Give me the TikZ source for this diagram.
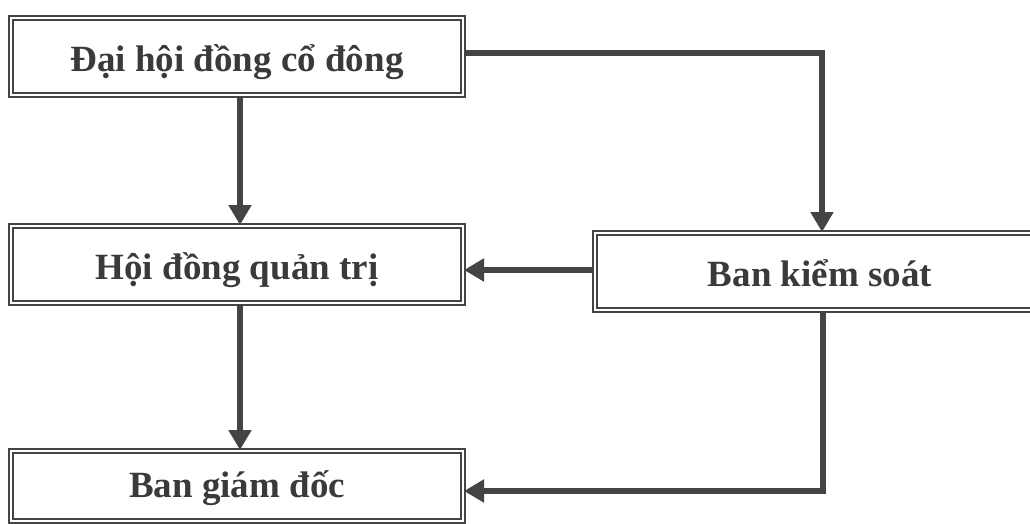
\documentclass[tikz,border=0pt]{standalone}
\usepackage{fontspec}
\setmainfont{Liberation Serif}
\usetikzlibrary{arrows.meta,calc}
\definecolor{ink}{HTML}{444444}
\definecolor{txt}{HTML}{3A3A3A}
\tikzset{
  orgbox/.style={draw=ink, line width=2pt, double=white, double distance=2.5pt,
    fill=white, minimum height=77pt, inner sep=0pt, text height=36pt, text depth=6pt,
    font=\fontsize{37}{40}\selectfont\bfseries, text=txt},
  conn/.style={draw=ink, line width=6.5pt, -{Triangle[width=22pt,length=20pt]}}
}
\begin{document}
\begin{tikzpicture}[x=1pt,y=-1pt]
\useasboundingbox (0,0) rectangle (1030,524);
\clip (0,0) rectangle (1030,524);
\node[orgbox, minimum width=452pt] (dh) at (237,56.5) {Đại hội đồng cổ đông};
\node[orgbox, minimum width=452pt] (hd) at (237,264.5) {Hội đồng quản trị};
\node[orgbox, minimum width=450pt] (bks) at (820,271.5) {Ban kiểm soát};
\node[orgbox, minimum width=452pt, minimum height=70pt, text height=28pt] (bgd) at (237,486) {Ban giám đốc};
\draw[conn] ([xshift=3pt]dh.south) -- ([xshift=3pt]hd.north);
\draw[conn] ([xshift=3pt]hd.south) -- ([xshift=3pt]bgd.north);
\draw[conn] ([yshift=3.5pt]dh.east) -| ([xshift=2pt]bks.north);
\draw[conn] ([yshift=1.5pt]bks.west) -- ([yshift=1.5pt]bks.west -| hd.east);
\draw[conn] ([xshift=3pt]bks.south) |- ([yshift=-5pt]bgd.east);
\end{tikzpicture}
\end{document}
